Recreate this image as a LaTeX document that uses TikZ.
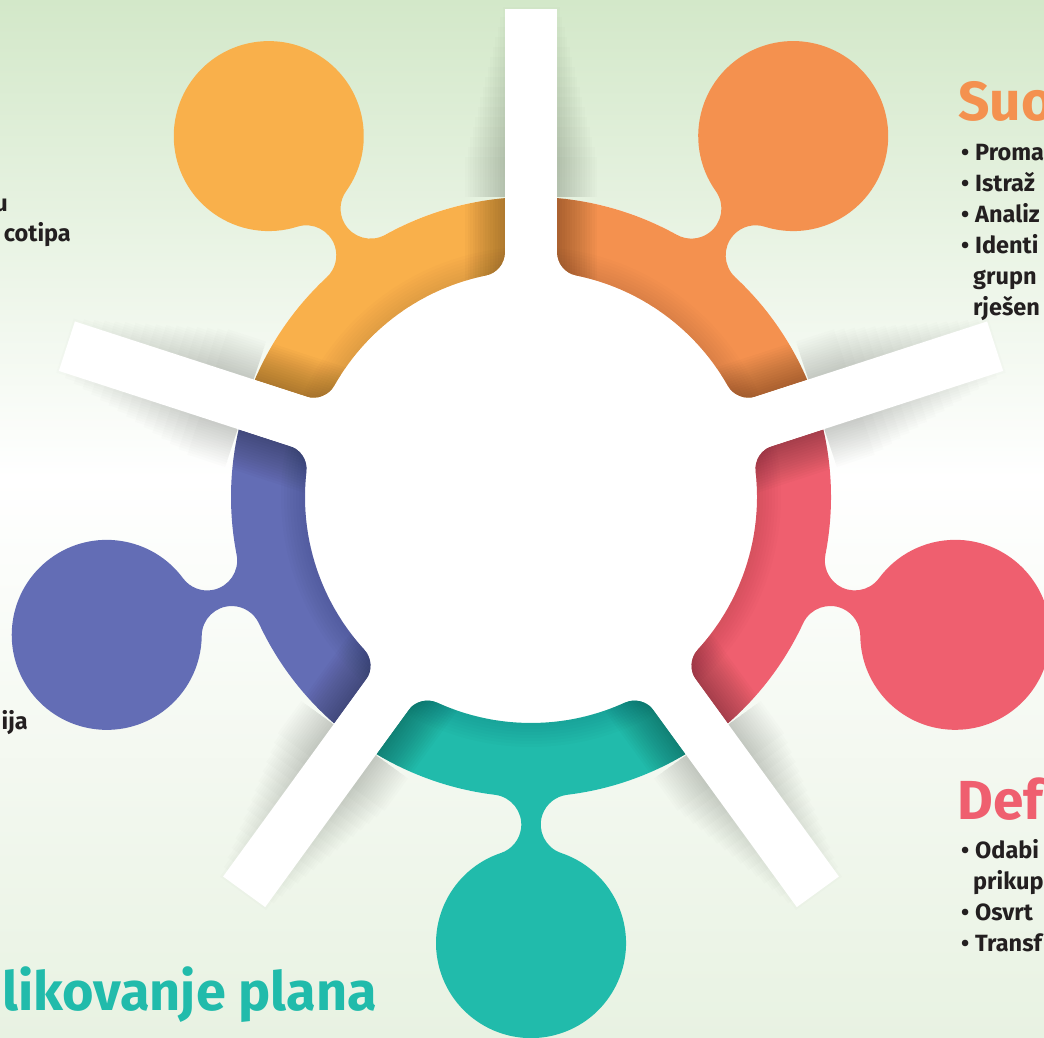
\documentclass[tikz,border=0pt]{standalone}
\usepackage{fontspec}
\setmainfont{Fira Sans}
\usetikzlibrary{positioning}

\definecolor{bgtop}{HTML}{D3E8C9}
\definecolor{bgbot}{HTML}{E8F2E2}
\definecolor{stepyellow}{HTML}{F9B04B}
\definecolor{steporange}{HTML}{F4914F}
\definecolor{stepred}{HTML}{EF5F6F}
\definecolor{stepteal}{HTML}{21BBAB}
\definecolor{stepblue}{HTML}{636DB5}
\definecolor{txtdark}{HTML}{231F20}

% ring piece + neck + bubble, centred on angle 0
\newcommand{\petalpath}{%
  (-31.03:300pt) arc[start angle=-31.03, end angle=-6.91, radius=300pt]
  arc[start angle=173.09, end angle=18.53, radius=30pt]
  arc[start angle=-161.47, end angle=161.47, radius=95pt]
  arc[start angle=-18.53, end angle=-173.09, radius=30pt]
  arc[start angle=6.91, end angle=31.03, radius=300pt]
  -- (29.94:246.33pt) arc[start angle=126, end angle=204.46, radius=24pt]
  arc[start angle=24.46, end angle=-24.46, radius=226pt]
  arc[start angle=155.54, end angle=234, radius=24pt]
  -- cycle}

% soft shadow beside one spoke: angle, inner radius, opacity of a layer
\newcommand{\spokeshadow}[3]{%
  \foreach \k in {1,...,16}
    \fill[black, opacity=#3, rotate=#1] (#2,-26-2.5*\k) rectangle (500-10*\k,26+2.5*\k);}

\newcommand{\bul}{\llap{•\hskip6pt}}

\begin{document}
\begin{tikzpicture}[x=1pt, y=1pt,
    head/.style={font=\fontsize{55}{60}\selectfont\bfseries, inner sep=0pt, anchor=base west},
    item/.style={font=\fontsize{23.5}{31}\selectfont\bfseries, text=txtdark, inner sep=0pt, anchor=base west},
    cut/.style={item, anchor=base east}]
\path[use as bounding box] (0,0) rectangle (1044,1038);
\clip (0,0) rectangle (1044,1038);

% background
\shade[top color=bgtop, bottom color=white] (0,1038) rectangle (1044,560);
\shade[top color=white, bottom color=bgbot] (0,560) rectangle (1044,0);

\coordinate (hub) at (531,541);

\begin{scope}[shift={(hub)}]
  % spoke shadows on the background
  \foreach \s in {18,90,162,234,306}{\spokeshadow{\s}{300}{0.011}}
  \fill[white] (0,0) circle[radius=300pt];

  % coloured pieces
  \foreach \a/\c in {126/stepyellow, 54/steporange, -18/stepred, -90/stepteal, 198/stepblue}{
    \begin{scope}[rotate=\a]
      \fill[\c] \petalpath;
      \clip \petalpath;
      \foreach \rr in {229,232,...,250}
        \fill[black, opacity=0.01] (0,0) circle[radius=\rr pt];
      \spokeshadow{36}{200}{0.02}
      \spokeshadow{-36}{200}{0.02}
    \end{scope}
  }

  % white spokes
  \foreach \s in {18,90,162,234,306}
    \fill[white, rotate=\s] (150,-26) rectangle (488,26);
\end{scope}

% right, upper block
\node[head, text=steporange] (suoHead) at (958,917) {Suo};
\node[item] (suoA) at (975,877) {\bul Proma};
\node[item] (suoB) at (975,846) {\bul Istraž};
\node[item] (suoC) at (975,815) {\bul Analiz};
\node[item] (suoD) at (975,784) {\bul Identi};
\node[item] (suoE) at (973,753) {grupn};
\node[item] (suoF) at (973,722) {rješen};

% right, lower block
\node[head, text=stepred] (defHead) at (957,218) {Def};
\node[item] (defA) at (975,179) {\bul Odabi};
\node[item] (defB) at (973,148) {prikup};
\node[item] (defC) at (975,117) {\bul Osvrt};
\node[item] (defD) at (975,86) {\bul Transf};

% left, cut off
\node[cut] (leftA) at (8,826) {u};
\node[cut] (leftB) at (71,796) {cotipa};
\node[cut] (leftC) at (28,308) {ija};

% bottom heading
\node[head, text=stepteal, font=\fontsize{54}{60}\selectfont\bfseries] (planHead) at (2,27) {likovanje plana};
\end{tikzpicture}
\end{document}
